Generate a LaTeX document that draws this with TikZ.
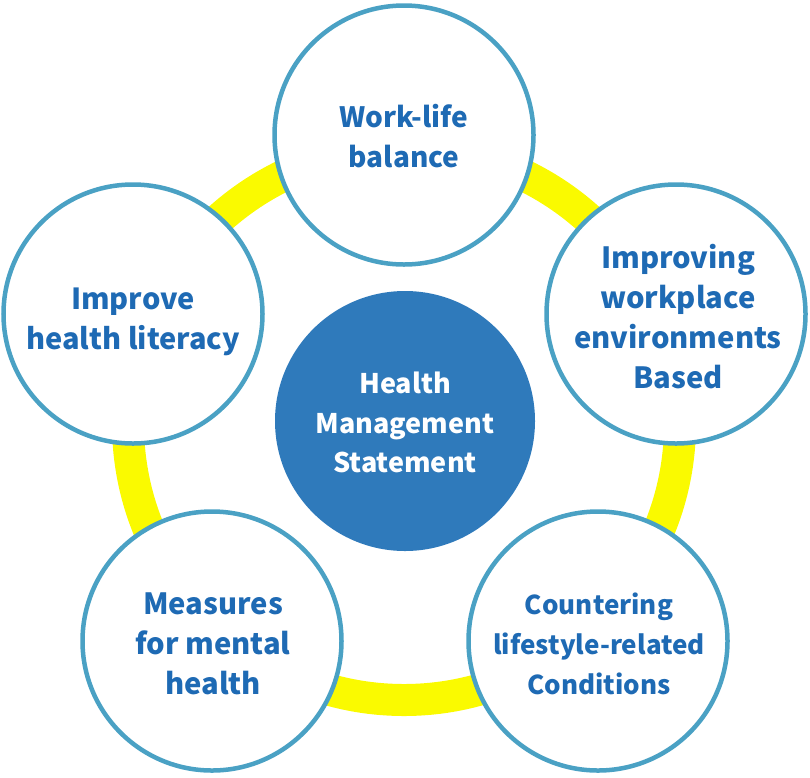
\documentclass[tikz,border=0pt]{standalone}
\usepackage{fontspec}
\setmainfont{Noto Sans CJK JP}
\definecolor{ringyellow}{RGB}{250,250,0}
\definecolor{edgeblue}{RGB}{74,161,196}
\definecolor{textblue}{RGB}{30,106,180}
\definecolor{coreblue}{RGB}{47,122,187}
\tikzset{
  topic/.style={circle, draw=edgeblue, line width=4.5pt, fill=white,
    minimum size=259pt, inner sep=0pt},
  topictext/.style={inner sep=0pt, align=center, text=textblue,
    font=\fontsize{#1}{40}\selectfont\bfseries},
  core/.style={circle, fill=coreblue, minimum size=260pt, inner sep=0pt},
  coretext/.style={inner sep=0pt, align=center, text=white,
    font=\fontsize{27}{39.5}\selectfont\bfseries},
  ring/.style={draw=ringyellow, line width=32pt}
}
\begin{document}
\begin{tikzpicture}[x=1pt,y=-1pt]
\useasboundingbox (0,0) rectangle (810,777);
\coordinate (ringc) at (404,424);
\draw[ring] (ringc) circle[radius=276];
\node[topic] (wlb) at (404,135) {};
\node[topic] (ihl) at (133,314) {};
\node[topic] (iwe) at (676,314) {};
\node[topic] (mmh) at (212,641) {};
\node[topic] (clc) at (598,641) {};
\node[core] (hms) at (405,421) {};
\node[topictext=28] (wlbt) at (404,136) {Work-life\\balance};
\node[topictext=29] (ihlt) at (133,322) {Improve\\health literacy};
\node[topictext=29.2] (iwet) at (678,317) {Improving\\workplace\\environments\\Based};
\node[topictext=29.2] (mmht) at (213,644) {Measures\\for mental\\health};
\node[topictext=26] (clct) at (599,644) {Countering\\lifestyle-related\\Conditions};
\node[coretext] (hmst) at (405,422.5) {Health\\Management\\Statement};
\end{tikzpicture}
\end{document}
